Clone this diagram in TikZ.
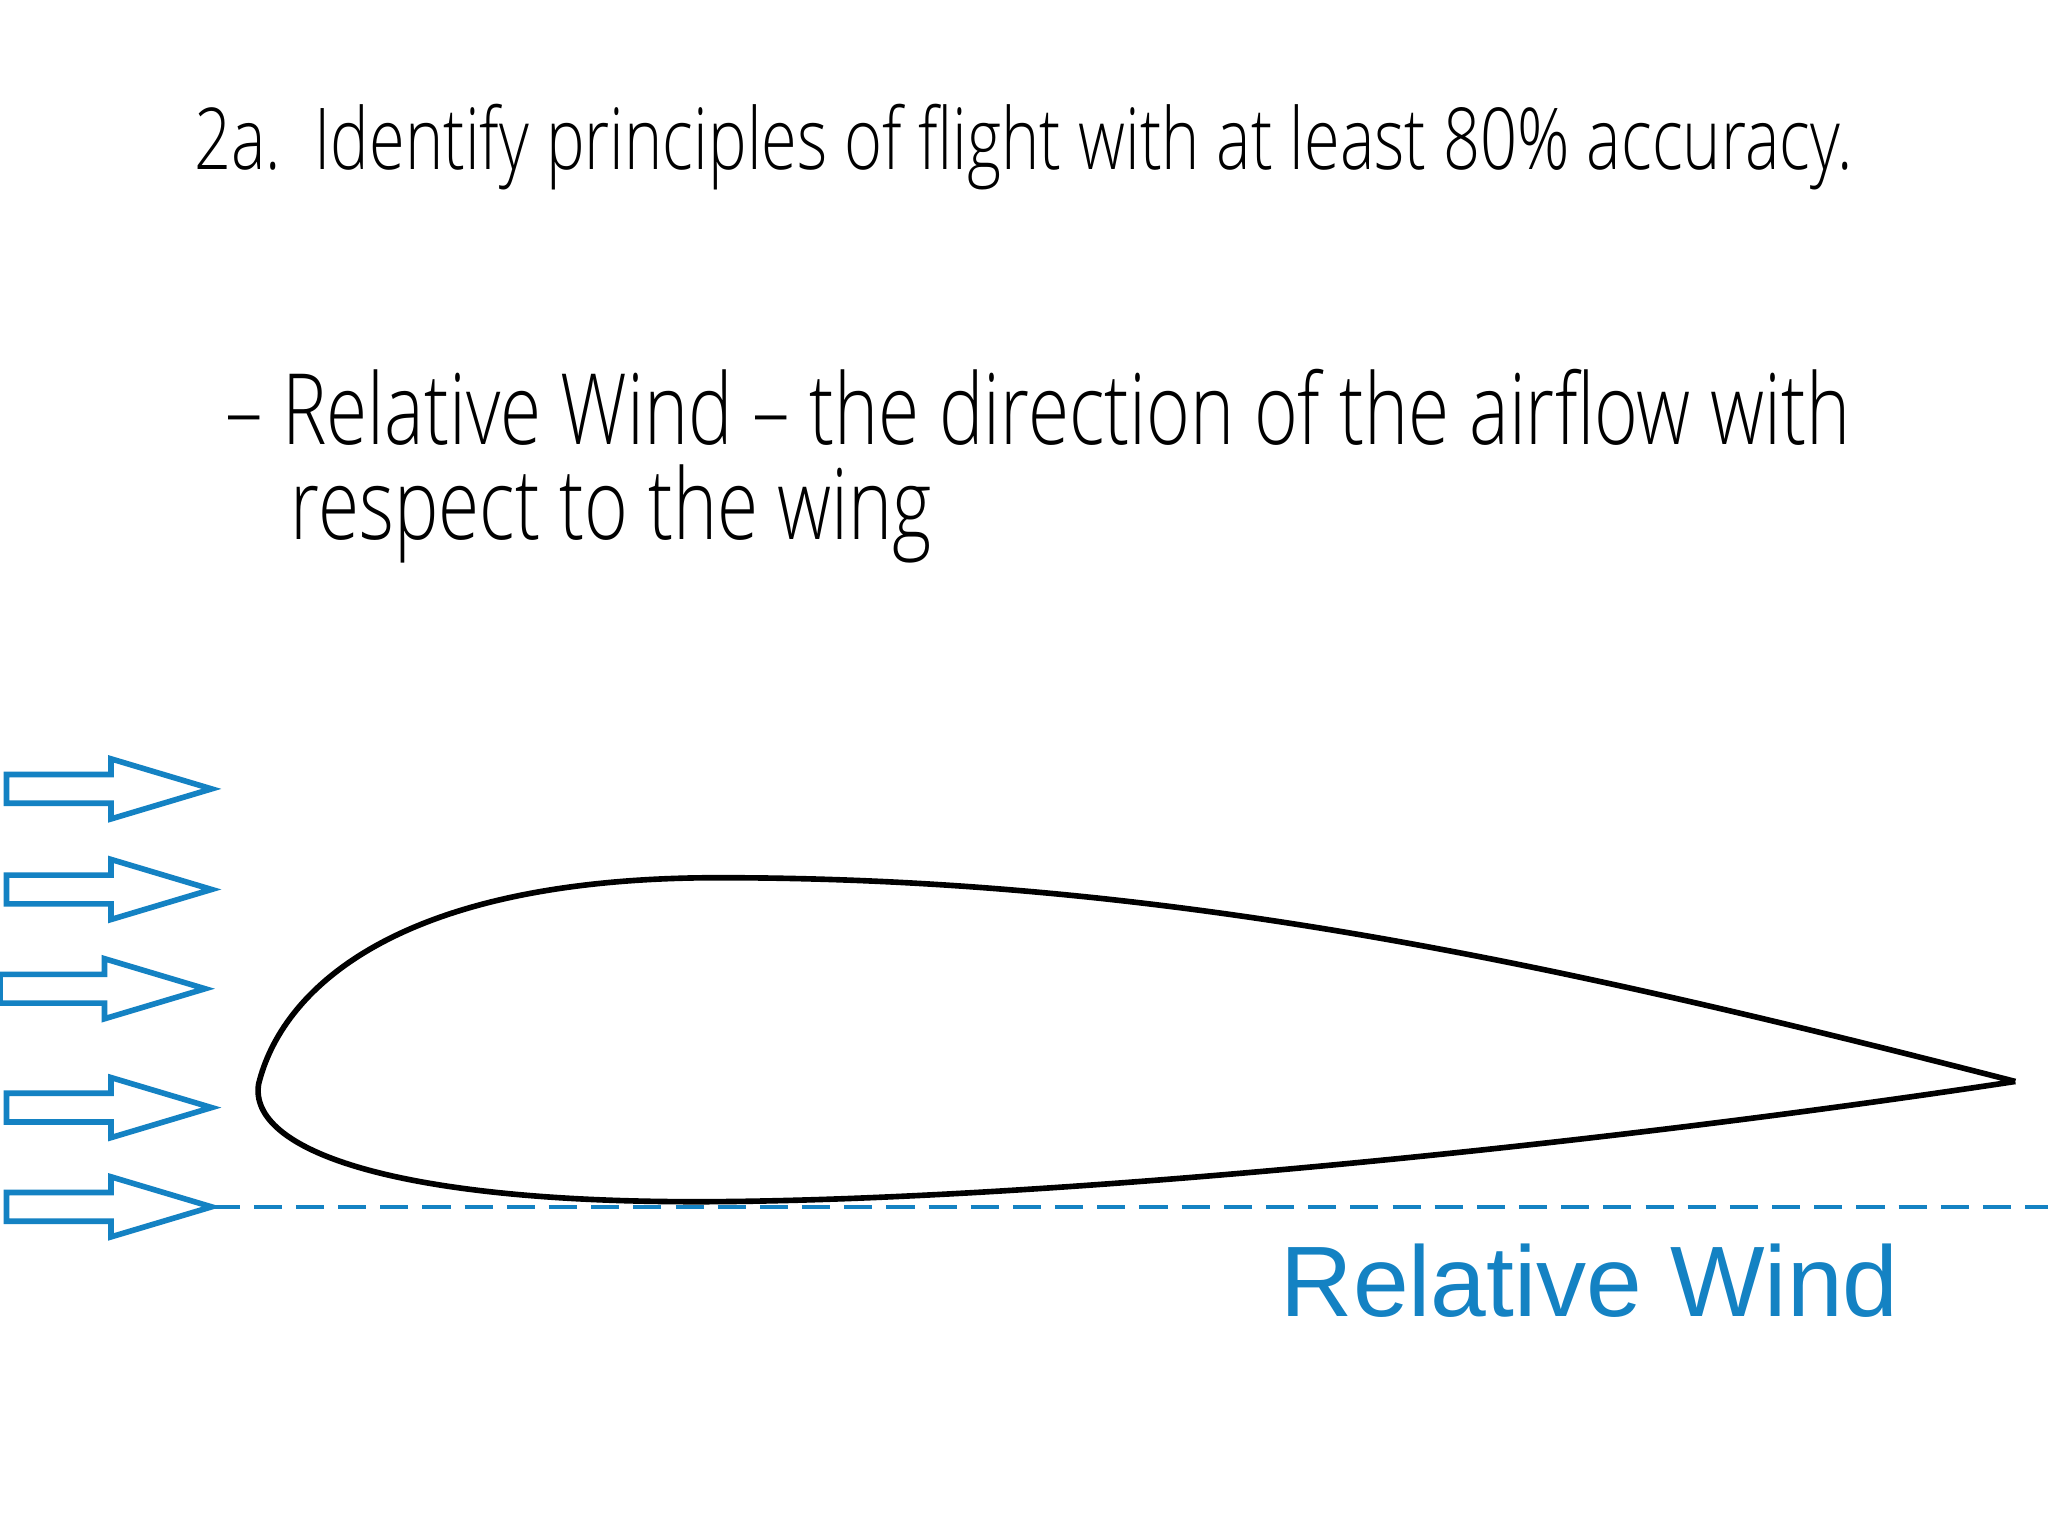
\documentclass[tikz,border=0pt]{standalone}
\usepackage{fontspec}
\setmainfont{Open Sans Light}[FakeStretch=0.76]
\newfontfamily\arialf{Liberation Sans}
\definecolor{wblue}{RGB}{20,130,195}
\begin{document}
\begin{tikzpicture}[x=0.013061cm,y=-0.013061cm,
  blockarrow/.style={draw=wblue,line width=1.6pt,fill=white},
  txt/.style={anchor=base west,inner sep=0pt,text=black}]
\useasboundingbox (0,0) rectangle (1568,1176);
\fill[white] (0,0) rectangle (1568,1176);
\node[txt,font=\fontsize{24.3}{27}\selectfont] (title) at (148,130) {2a.\ \ Identify principles of flight with at least 80\% accuracy.};
\node[txt,font=\fontsize{28}{32}\selectfont] (b1) at (172,340) {– Relative Wind – the direction of the airflow with};
\node[txt,font=\fontsize{28}{32}\selectfont] (b2) at (222,413) {respect to the wing};
\foreach \y/\x/\n in {604/5/a1,681/5/a2,757/0/a3,848/5/a4,924/5/a5}{
  \draw[blockarrow] (\x,\y-11) -- (\x+80,\y-11) -- (\x+80,\y-23) -- (\x+157,\y) -- (\x+80,\y+23) -- (\x+80,\y+11) -- (\x,\y+11) -- cycle;
  \coordinate (\n) at (\x+157,\y);
}
\coordinate (endd) at (1568,924);
\draw[wblue,line width=1.3pt,dash pattern=on 8pt off 4pt] (a5) -- (endd);
\draw[line width=1.6pt,black] (1543,828) .. controls (1200,740) and (900,672) .. (550,672)
  .. controls (300,672) and (215,760) .. (198,830)
  .. controls (190,880) and (300,922) .. (550,920)
  .. controls (800,918) and (1200,880) .. (1543,828);
\node[txt,text=wblue,font=\arialf\fontsize{28.5}{32}\selectfont] (rw) at (980,1008) {Relative Wind};
\end{tikzpicture}
\end{document}
